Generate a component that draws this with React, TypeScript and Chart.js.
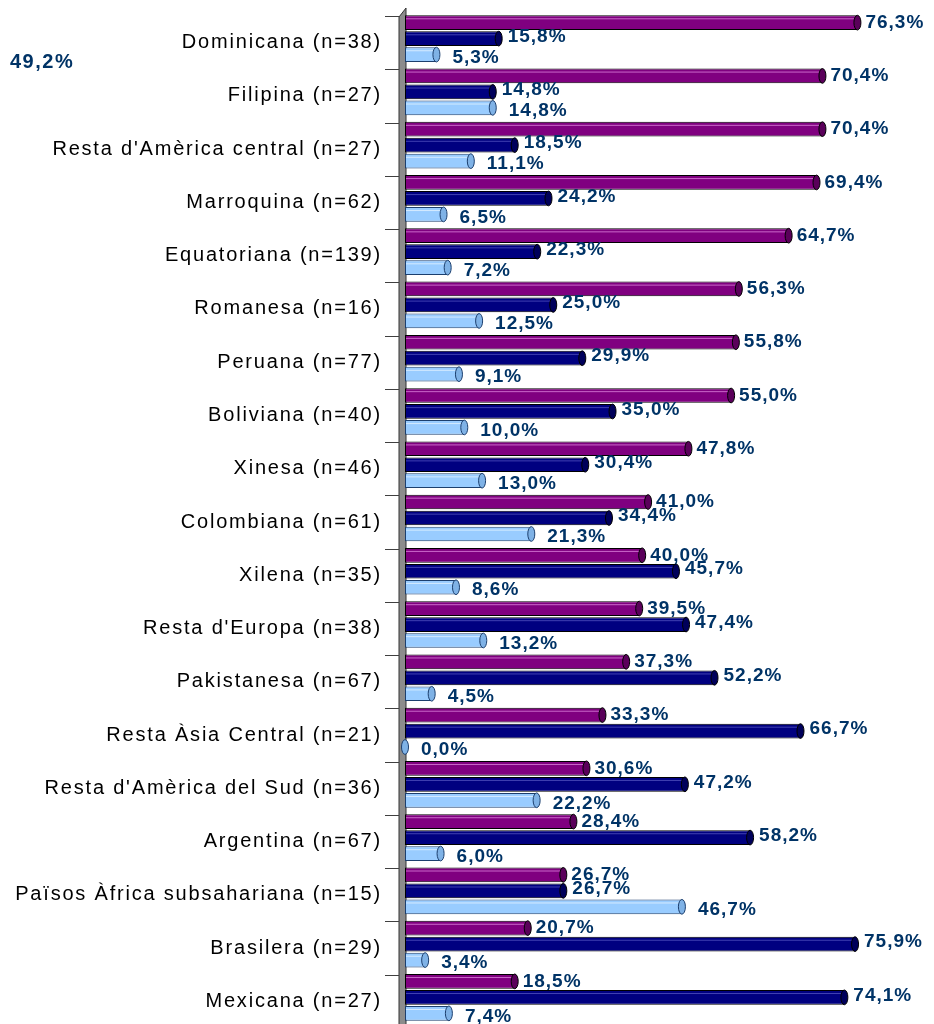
import React, { useEffect, useRef } from "react";
import { Chart, registerables } from "chart.js";

Chart.register(...registerables);

const categories = [
  "Dominicana (n=38)",
  "Filipina (n=27)",
  "Resta d'Amèrica central (n=27)",
  "Marroquina (n=62)",
  "Equatoriana (n=139)",
  "Romanesa (n=16)",
  "Peruana (n=77)",
  "Boliviana (n=40)",
  "Xinesa (n=46)",
  "Colombiana (n=61)",
  "Xilena (n=35)",
  "Resta d'Europa (n=38)",
  "Pakistanesa (n=67)",
  "Resta Àsia Central (n=21)",
  "Resta d'Amèrica del Sud (n=36)",
  "Argentina (n=67)",
  "Països Àfrica subsahariana (n=15)",
  "Brasilera (n=29)",
  "Mexicana (n=27)",
];

const seriesPurple = [76.3, 70.4, 70.4, 69.4, 64.7, 56.3, 55.8, 55.0, 47.8, 41.0, 40.0, 39.5, 37.3, 33.3, 30.6, 28.4, 26.7, 20.7, 18.5];
const seriesNavy = [15.8, 14.8, 18.5, 24.2, 22.3, 25.0, 29.9, 35.0, 30.4, 34.4, 45.7, 47.4, 52.2, 66.7, 47.2, 58.2, 26.7, 75.9, 74.1];
const seriesLight = [5.3, 14.8, 11.1, 6.5, 7.2, 12.5, 9.1, 10.0, 13.0, 21.3, 8.6, 13.2, 4.5, 0.0, 22.2, 6.0, 46.7, 3.4, 7.4];

const strayLabel = "49,2%";

const fills = ["#800080", "#000080", "#99CCFF"];
const capFills = ["#5a005a", "#00005a", "#7fb2e6"];
const highlights = ["rgba(220,130,220,0.8)", "rgba(80,80,190,0.8)", "rgba(220,238,255,0.9)"];
const borders = ["#000000", "#000000", "#1c3f6e"];
const labelDy = [0, -2, 3];
const labelDx = [8, 9, 16];

const fmt = (v: number) => v.toFixed(1).replace(".", ",") + "%";

const decoPlugin = {
  id: "deco",
  beforeDatasetsDraw(chart: any) {
    const ctx = chart.ctx as CanvasRenderingContext2D;
    const y = chart.scales.y;
    const area = chart.chartArea;
    const step = y.getPixelForValue(1) - y.getPixelForValue(0);
    const shift = 4;
    ctx.save();
    // wall
    const wl = area.left - 6;
    const wr = area.left;
    ctx.beginPath();
    ctx.moveTo(wl, area.bottom + 10);
    ctx.lineTo(wl, area.top + 5);
    ctx.lineTo(wr + 1, area.top - 4);
    ctx.lineTo(wr + 1, area.bottom + 10);
    ctx.closePath();
    ctx.fillStyle = "#8c8c8c";
    ctx.fill();
    ctx.strokeStyle = "#333333";
    ctx.lineWidth = 1;
    ctx.stroke();
    // tick marks
    ctx.strokeStyle = "#404040";
    ctx.beginPath();
    for (let i = 0; i <= categories.length; i++) {
      const ty = Math.round(y.getPixelForValue(0) - step / 2 + i * step + shift) + 0.5;
      ctx.moveTo(wl - 14, ty);
      ctx.lineTo(wl, ty);
    }
    ctx.stroke();
    // category labels
    ctx.fillStyle = "#000000";
    ctx.font = "20px 'Liberation Sans', Arial, sans-serif";
    (ctx as any).letterSpacing = "1.8px";
    ctx.textAlign = "right";
    ctx.textBaseline = "middle";
    categories.forEach((c, i) => {
      ctx.fillText(c, wl - 17, y.getPixelForValue(i) + shift);
    });
    // stray label
    ctx.font = "bold 20px 'Liberation Sans', Arial, sans-serif";
    (ctx as any).letterSpacing = "1.5px";
    ctx.fillStyle = "#003366";
    ctx.textAlign = "left";
    ctx.fillText(strayLabel, 10, 62);
    ctx.restore();
  },
  afterDatasetsDraw(chart: any) {
    const ctx = chart.ctx as CanvasRenderingContext2D;
    ctx.save();
    chart.data.datasets.forEach((ds: any, di: number) => {
      const meta = chart.getDatasetMeta(di);
      meta.data.forEach((el: any) => {
        const p = el.getProps(["x", "y", "base", "height"], true);
        const h = Math.abs(p.height);
        // highlight
        ctx.strokeStyle = highlights[di];
        ctx.lineWidth = 1;
        if (p.x - p.base > 4) {
          ctx.beginPath();
          ctx.moveTo(p.base + 1, p.y - h / 2 + 3.5);
          ctx.lineTo(p.x - 2, p.y - h / 2 + 3.5);
          ctx.stroke();
        }
        // end cap
        ctx.beginPath();
        ctx.ellipse(p.x, p.y, 3.5, h / 2, 0, 0, Math.PI * 2);
        ctx.fillStyle = capFills[di];
        ctx.fill();
        ctx.strokeStyle = borders[di];
        ctx.stroke();
      });
    });
    // value labels
    ctx.font = "bold 19px 'Liberation Sans', Arial, sans-serif";
    (ctx as any).letterSpacing = "1px";
    ctx.fillStyle = "#003366";
    ctx.textAlign = "left";
    ctx.textBaseline = "middle";
    chart.data.datasets.forEach((ds: any, di: number) => {
      const meta = chart.getDatasetMeta(di);
      meta.data.forEach((el: any, i: number) => {
        const p = el.getProps(["x", "y"], true);
        ctx.fillText(fmt(ds.data[i]), p.x + labelDx[di], p.y + labelDy[di]);
      });
    });
    ctx.restore();
  },
};

export default function App() {
  const ref = useRef<HTMLCanvasElement | null>(null);
  useEffect(() => {
    if (!ref.current) return;
    const chart = new Chart(ref.current, {
      type: "bar",
      data: {
        labels: categories,
        datasets: [seriesPurple, seriesNavy, seriesLight].map((d, i) => ({
          label: "s" + i,
          data: d,
          backgroundColor: fills[i],
          borderColor: borders[i],
          borderWidth: 1,
          borderSkipped: false,
          categoryPercentage: 0.9,
          barPercentage: 0.92,
        })),
      },
      options: {
        indexAxis: "y",
        responsive: false,
        animation: false,
        devicePixelRatio: 1,
        layout: { padding: { left: 405, right: 25, top: 12, bottom: 0 } },
        plugins: { legend: { display: false }, tooltip: { enabled: false } },
        scales: {
          x: { display: false, min: 0, max: 85 },
          y: { display: false },
        },
      },
      plugins: [decoPlugin],
    });
    return () => chart.destroy();
  }, []);
  return (
    <div style={{ position: "fixed", left: 0, top: 0, width: 934, height: 1024, overflow: "hidden", background: "#fff" }}>
      <canvas ref={ref} width={934} height={1024} style={{ width: 934, height: 1024, display: "block" }} />
    </div>
  );
}
